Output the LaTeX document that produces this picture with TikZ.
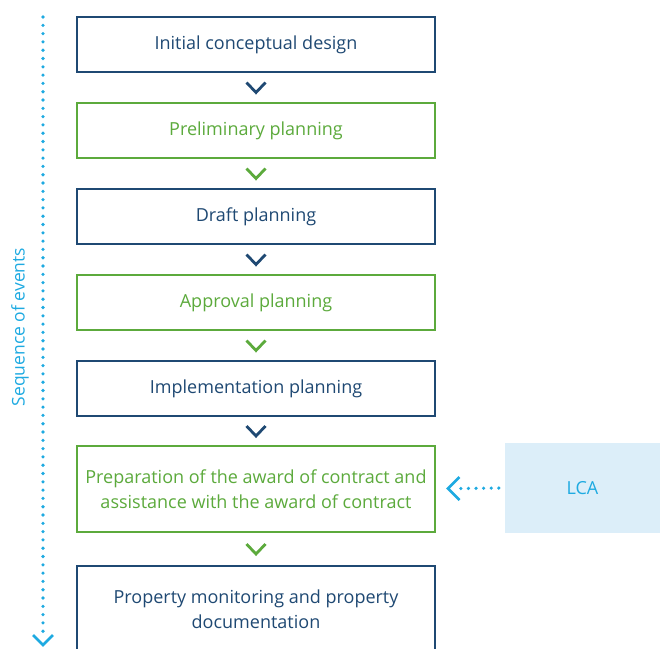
\documentclass[tikz,border=0pt]{standalone}
\usepackage{fontspec}
\setmainfont{Open Sans}
\usepackage{tikz}
\usepackage{xcolor}
\usetikzlibrary{positioning,calc}

\definecolor{darkblue}{RGB}{31,73,115}
\definecolor{leafgreen}{RGB}{92,170,60}
\definecolor{skyblue}{RGB}{30,170,225}
\definecolor{paleblue}{RGB}{220,238,249}

\tikzset{
  phase/.style={draw, line width=2.4pt, fill=white, minimum width=357.6pt,
    minimum height=54.6pt, align=center, inner sep=0pt,
    font=\fontsize{18}{25}\selectfont},
  bluephase/.style={phase, draw=darkblue, text=darkblue},
  greenphase/.style={phase, draw=leafgreen, text=leafgreen},
  chevron/.style={line width=2.8pt, line cap=butt, line join=miter},
  dotline/.style={skyblue, line width=3.6pt, line cap=round, dash pattern=on 0pt off 8.3pt}
}

\newcommand{\chev}[2]{\draw[chevron,#1] ($(#2)+(-9.5pt,5pt)$) -- ($(#2)+(0,-5pt)$) -- ($(#2)+(9.5pt,5pt)$);}

\begin{document}
\begin{tikzpicture}[x=1pt,y=1pt]
\useasboundingbox (0,0) rectangle (660,-648);
\begin{scope}
\clip (0,0) rectangle (660,-648);
% phases
\node[bluephase] (initial) at (256,-44.5) {Initial conceptual design};
\node[greenphase, below=29pt of initial] (prelim) {Preliminary planning};
\node[bluephase, below=29pt of prelim] (draft) {Draft planning};
\node[greenphase, below=29pt of draft] (approval) {Approval planning};
\node[bluephase, below=29pt of approval] (implement) {Implementation planning};
\node[greenphase, minimum height=85.6pt, below=28pt of implement] (award)
  {Preparation of the award of contract and\\assistance with the award of contract};
\node[bluephase, minimum height=85.6pt, below=32pt of award] (monitor)
  {Property monitoring and property\\documentation};
% LCA
\node[fill=paleblue, minimum width=155pt, minimum height=90pt, inner sep=0pt,
  text=skyblue, font=\fontsize{18}{25}\selectfont] (lca) at (582.5,-488) {LCA};

% chevrons between phases
\path (initial.south) -- (prelim.north) coordinate[midway] (c1);
\path (prelim.south) -- (draft.north) coordinate[midway] (c2);
\path (draft.south) -- (approval.north) coordinate[midway] (c3);
\path (approval.south) -- (implement.north) coordinate[midway] (c4);
\path (implement.south) -- (award.north) coordinate[midway] (c5);
\path (award.south) -- (monitor.north) coordinate[midway] (c6);
\chev{darkblue}{c1}
\chev{leafgreen}{c2}
\chev{darkblue}{c3}
\chev{leafgreen}{c4}
\chev{darkblue}{c5}
\chev{leafgreen}{c6}

% sequence arrow
\coordinate (seqtop) at (43,-17);
\coordinate (seqend) at (43,-645);
\draw[dotline] (seqtop) -- ($(seqend)+(0,10)$);
\draw[chevron, skyblue] ($(seqend)+(-10,10)$) -- (seqend) -- ($(seqend)+(10,10)$);
\node[rotate=90, text=skyblue, font=\fontsize{17.5}{22}\selectfont] (seqlabel) at (20,-327) {Sequence of events};

% LCA arrow
\coordinate (lcahead) at (448,-488.5);
\draw[dotline, dash pattern=on 0pt off 7.6pt] ($(lca.west)+(-6,0)$) -- ($(lcahead)+(12,0)$);
\draw[chevron, skyblue] ($(lcahead)+(11.5,11.5)$) -- (lcahead) -- ($(lcahead)+(11.5,-11.5)$);
\end{scope}
\end{tikzpicture}
\end{document}
